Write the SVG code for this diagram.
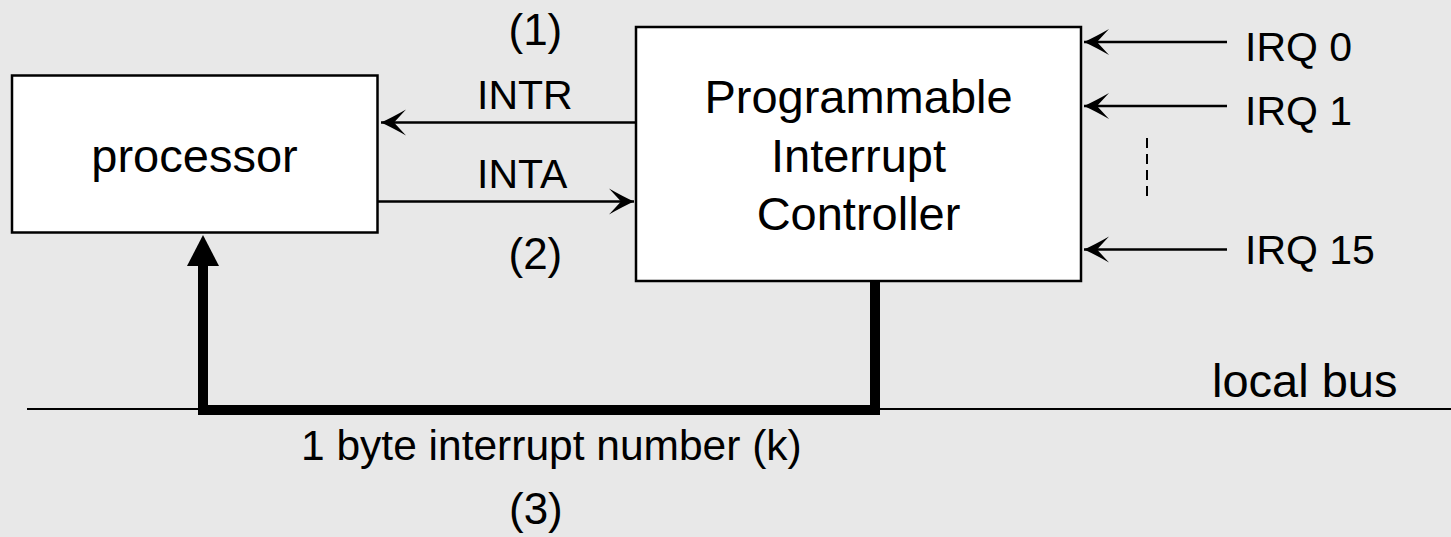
<svg xmlns="http://www.w3.org/2000/svg" width="1451" height="537" viewBox="0 0 1451 537">
  <style>
    .box { fill: #ffffff; stroke: #000000; stroke-width: 2.5; }
    .lbl { font-family: "Liberation Sans", Arial, sans-serif; fill: #000000; }
    .big { font-size: 47px; }
    .sig { font-size: 41px; }
    .num { font-size: 44px; }
    .wire { fill: none; stroke: #000000; stroke-width: 2.5; }
    .bus { fill: none; stroke: #000000; stroke-width: 2; }
    .thick { fill: none; stroke: #000000; stroke-width: 10; stroke-linejoin: miter; }
  </style>
  <defs>
    <marker id="barb" markerUnits="userSpaceOnUse" markerWidth="30" markerHeight="30" viewBox="-27 -15 30 30" refX="0" refY="0" orient="auto">
      <path d="M0,0 Q-11,-5 -25,-13 L-13,0 L-25,13 Q-11,5 0,0 Z" fill="#000000"/>
    </marker>
  </defs>
  <rect x="0" y="0" width="1451" height="537" fill="#e8e8e8"/>

  <g id="connectors">
    <line class="bus" x1="27" y1="409" x2="1451" y2="409"/>
    <path class="thick" d="M875,281 V410 H203 V262"/>
    <polygon points="187,266 219,266 203,235" fill="#000000"/>
    <line class="wire" x1="636" y1="122.5" x2="381" y2="122.5" marker-end="url(#barb)"/>
    <line class="wire" x1="378" y1="201.5" x2="634" y2="201.5" marker-end="url(#barb)"/>
    <line class="wire" x1="1227" y1="42" x2="1084" y2="42" marker-end="url(#barb)"/>
    <line class="wire" x1="1227" y1="106" x2="1084" y2="106" marker-end="url(#barb)"/>
    <line class="wire" x1="1227" y1="249.5" x2="1084" y2="249.5" marker-end="url(#barb)"/>
    <line x1="1147" y1="138" x2="1147" y2="202" stroke="#000000" stroke-width="2" stroke-dasharray="10 6"/>
  </g>

  <g id="processor">
    <rect class="box" x="12" y="75.5" width="365.5" height="157"/>
    <text class="lbl big" x="194.5" y="171.5" text-anchor="middle">processor</text>
  </g>

  <g id="pic">
    <rect class="box" x="636" y="27" width="445" height="254"/>
    <text class="lbl big" x="858.5" y="113" text-anchor="middle">Programmable</text>
    <text class="lbl big" x="858.5" y="171.5" text-anchor="middle">Interrupt</text>
    <text class="lbl big" x="858.5" y="230" text-anchor="middle">Controller</text>
  </g>

  <g id="labels">
    <text class="lbl num" x="508.5" y="45">(1)</text>
    <text class="lbl sig" x="477" y="109">INTR</text>
    <text class="lbl sig" x="477" y="188">INTA</text>
    <text class="lbl num" x="508.5" y="269">(2)</text>
    <text class="lbl sig" x="1245" y="61">IRQ 0</text>
    <text class="lbl sig" x="1245" y="125">IRQ 1</text>
    <text class="lbl sig" x="1245" y="264">IRQ 15</text>
    <text class="lbl big" x="1212" y="397">local bus</text>
    <text class="lbl" x="301" y="460" font-size="42.5">1 byte interrupt number (k)</text>
    <text class="lbl num" x="509" y="524">(3)</text>
  </g>
</svg>
